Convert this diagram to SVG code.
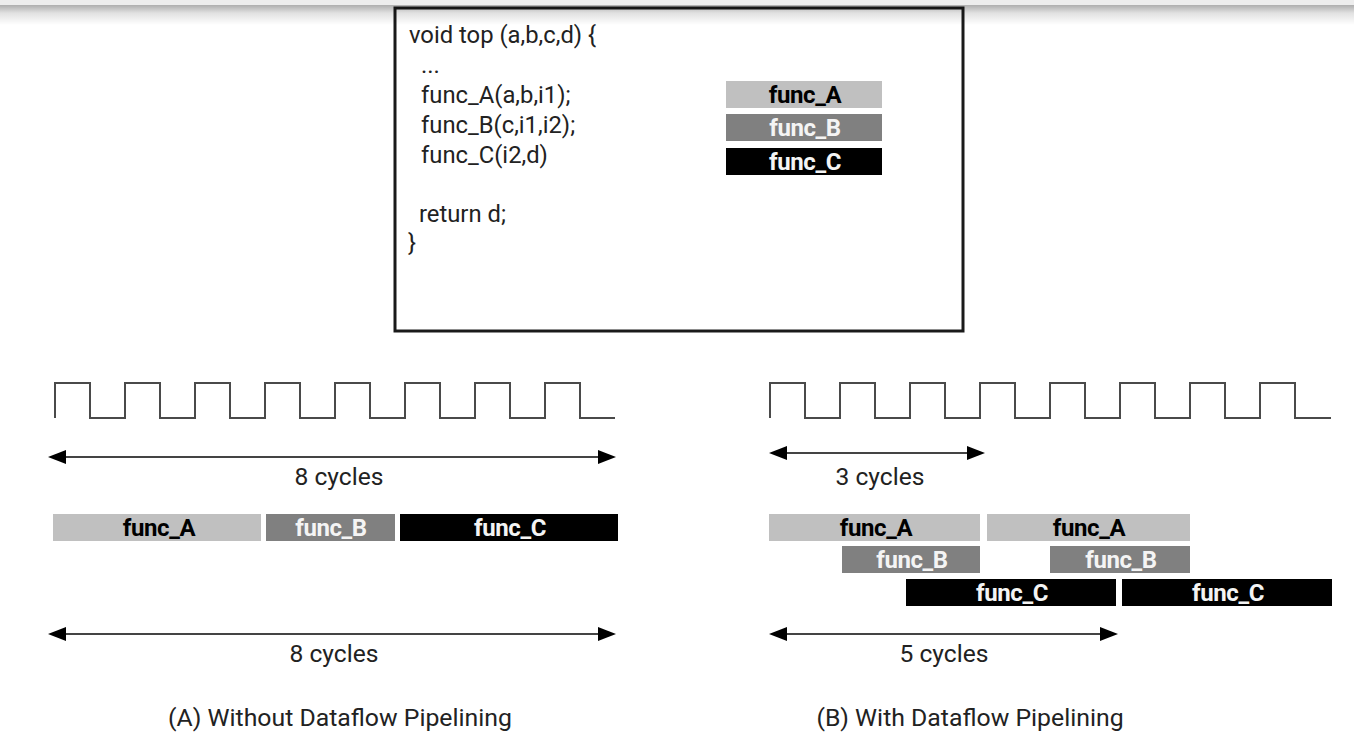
<svg xmlns="http://www.w3.org/2000/svg" width="1354" height="747" viewBox="0 0 1354 747">
  <style>
    .code { font-family: Roboto, "Liberation Sans", sans-serif; font-size: 23.8px; fill: #222; }
    .lbl { font-family: Roboto, "Liberation Sans", sans-serif; font-size: 24.6px; fill: #222; text-anchor: middle; }
    .cap { font-family: Roboto, "Liberation Sans", sans-serif; font-size: 24.8px; fill: #222; text-anchor: middle; }
    .bt { font-family: Roboto, "Liberation Sans", sans-serif; font-size: 24px; font-weight: bold; text-anchor: middle; letter-spacing: -0.4px; }
    .ba { fill: #c0c0c0; }
    .bb { fill: #808080; }
    .bc { fill: #000000; }
    .ta { fill: #000; }
    .tw { fill: #f4f4f4; }
    .clk { fill: none; stroke: #4a4a4a; stroke-width: 2; }
    .arr { stroke: #444; stroke-width: 2; fill: none; marker-start: url(#ah); marker-end: url(#ah); }
  </style>
  <defs>
    <marker id="ah" markerUnits="userSpaceOnUse" markerWidth="20" markerHeight="16" refX="8" refY="7" orient="auto-start-reverse">
      <path d="M0,0 L18,7 L0,14 Z" fill="#000"/>
    </marker>
    <linearGradient id="shadow" x1="0" y1="0" x2="0" y2="1">
      <stop offset="0" stop-color="#000" stop-opacity="0.32"/>
      <stop offset="0.4" stop-color="#000" stop-opacity="0.12"/>
      <stop offset="1" stop-color="#000" stop-opacity="0"/>
    </linearGradient>
  </defs>

  <rect x="0" y="0" width="1354" height="747" fill="#fff"/>

  <g id="code-box">
    <rect x="395" y="8" width="568" height="323" fill="#fff" stroke="#1a1a1a" stroke-width="3"/>
    <text class="code" x="409" y="43">void top (a,b,c,d) {</text>
    <text class="code" x="421" y="73">...</text>
    <text class="code" x="421" y="103">func_A(a,b,i1);</text>
    <text class="code" x="421" y="133">func_B(c,i1,i2);</text>
    <text class="code" x="421" y="163">func_C(i2,d)</text>
    <text class="code" x="419" y="222">return d;</text>
    <text class="code" x="408" y="251">}</text>
  </g>

  <g id="legend">
    <rect class="ba" x="726" y="81" width="156" height="27"/>
    <text class="bt ta" x="805" y="102.5">func_A</text>
    <rect class="bb" x="726" y="114" width="156" height="27"/>
    <text class="bt tw" x="805" y="135.5">func_B</text>
    <rect class="bc" x="726" y="148" width="156" height="27"/>
    <text class="bt tw" x="805" y="169.5">func_C</text>
  </g>

  <g id="clock-a">
    <path class="clk" d="M55,418 V383 H90 V418 H125 V383 H160 V418 H195 V383 H230 V418 H265 V383 H300 V418 H335 V383 H370 V418 H405 V383 H440 V418 H475 V383 H510 V418 H545 V383 H580 V418 H615"/>
  </g>
  <g id="clock-b">
    <path class="clk" d="M770,418 V383 H805 V418 H840 V383 H875 V418 H910 V383 H945 V418 H980 V383 H1015 V418 H1050 V383 H1085 V418 H1120 V383 H1155 V418 H1190 V383 H1225 V418 H1260 V383 H1295 V418 H1331"/>
  </g>

  <g id="connectors">
    <line class="arr" x1="58" y1="457" x2="606" y2="457"/>
    <line class="arr" x1="58" y1="634" x2="606" y2="634"/>
    <line class="arr" x1="779" y1="453" x2="975" y2="453"/>
    <line class="arr" x1="779" y1="634" x2="1108" y2="634"/>
  </g>

  <g id="labels">
    <text class="lbl" x="339" y="485">8 cycles</text>
    <text class="lbl" x="334" y="662">8 cycles</text>
    <text class="lbl" x="880" y="485">3 cycles</text>
    <text class="lbl" x="944" y="662">5 cycles</text>
  </g>

  <g id="timeline-a">
    <rect class="ba" x="53" y="514" width="208" height="27"/>
    <text class="bt ta" x="159" y="535.5">func_A</text>
    <rect class="bb" x="266" y="514" width="129" height="27"/>
    <text class="bt tw" x="331" y="535.5">func_B</text>
    <rect class="bc" x="400" y="514" width="218" height="27"/>
    <text class="bt tw" x="510" y="535.5">func_C</text>
  </g>

  <g id="timeline-b">
    <rect class="ba" x="769" y="514" width="211" height="27"/>
    <text class="bt ta" x="876" y="535.5">func_A</text>
    <rect class="ba" x="987" y="514" width="203" height="27"/>
    <text class="bt ta" x="1089" y="535.5">func_A</text>
    <rect class="bb" x="842" y="546" width="138" height="27"/>
    <text class="bt tw" x="912" y="567.5">func_B</text>
    <rect class="bb" x="1050" y="546" width="140" height="27"/>
    <text class="bt tw" x="1121" y="567.5">func_B</text>
    <rect class="bc" x="906" y="579" width="210" height="27"/>
    <text class="bt tw" x="1012" y="600.5">func_C</text>
    <rect class="bc" x="1122" y="579" width="210" height="27"/>
    <text class="bt tw" x="1228" y="600.5">func_C</text>
  </g>

  <g id="captions">
    <text class="cap" x="340" y="726">(A) Without Dataflow Pipelining</text>
    <text class="cap" x="970" y="726">(B) With Dataflow Pipelining</text>
  </g>

  <g id="top-shadow">
    <rect x="0" y="0" width="1354" height="5" fill="#ededed"/>
    <rect x="0" y="5" width="1354" height="20" fill="url(#shadow)"/>
  </g>
</svg>
